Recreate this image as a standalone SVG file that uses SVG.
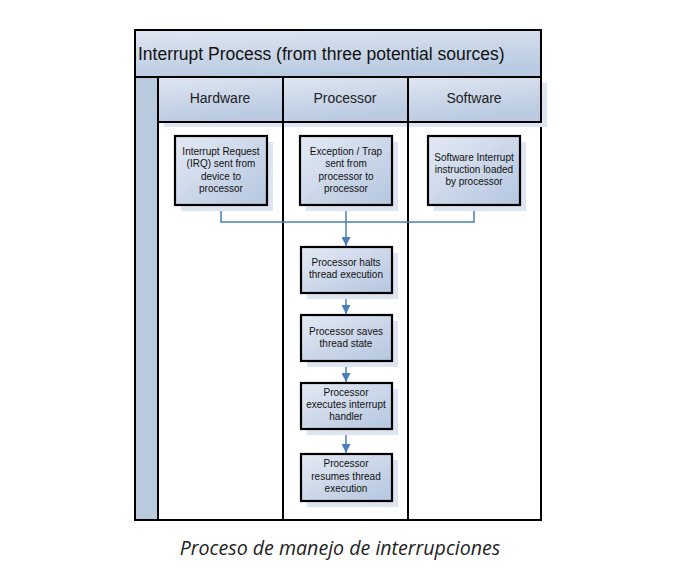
<svg xmlns="http://www.w3.org/2000/svg" width="700" height="581" viewBox="0 0 700 581">
<defs>
<linearGradient id="g" x1="0" y1="0" x2="1" y2="1">
<stop offset="0" stop-color="#e4eaf4"/>
<stop offset="1" stop-color="#b4c6df"/>
</linearGradient>
<linearGradient id="gh" x1="0" y1="0" x2="0.3" y2="1">
<stop offset="0" stop-color="#dfe6f1"/>
<stop offset="1" stop-color="#b9cae1"/>
</linearGradient>
<marker id="arr" viewBox="0 0 10 10" refX="10" refY="5" markerWidth="9" markerHeight="9" markerUnits="userSpaceOnUse" orient="auto">
<path d="M0,0 L10,5 L0,10 z" fill="#4a7ebb"/>
</marker>
</defs>
<style>
.shadow{fill:#dce5f1}
.box{fill:url(#g);stroke:#000;stroke-width:2.2}
.hdr{fill:url(#gh);stroke:#000;stroke-width:2}
.bt{font-family:"Liberation Sans",Arial,sans-serif;font-size:10px;fill:#111;text-anchor:middle}
.ht{font-family:"Liberation Sans",Arial,sans-serif;font-size:14px;fill:#222;text-anchor:middle}
.line{stroke:#000;stroke-width:2;fill:none}
.conn{stroke:#4a7ebb;stroke-width:1.5;fill:none}
</style>
<rect width="700" height="581" fill="#fff"/>
<g id="pool">
<rect x="135" y="30" width="406" height="490" fill="#fff" stroke="#000" stroke-width="2"/>
<rect x="135" y="30" width="406" height="47" fill="url(#gh)" stroke="#000" stroke-width="2"/>
<text x="138" y="60" font-family="'Liberation Sans',Arial,sans-serif" font-size="17.5" fill="#111">Interrupt Process (from three potential sources)</text>
<rect x="135" y="77" width="23" height="443" fill="#b9cadf" stroke="#000" stroke-width="2"/>
</g>
<g id="lane-hardware">
<rect x="164" y="83" width="125" height="44" class="shadow"/>
<rect x="158" y="77" width="125" height="45" class="hdr"/>
<text x="220" y="103" class="ht">Hardware</text>
<line x1="283" y1="77" x2="283" y2="520" class="line"/>
</g>
<g id="lane-processor">
<rect x="289" y="83" width="125" height="44" class="shadow"/>
<rect x="283" y="77" width="125" height="45" class="hdr"/>
<text x="345" y="103" class="ht">Processor</text>
<line x1="408" y1="77" x2="408" y2="520" class="line"/>
</g>
<g id="lane-software">
<rect x="414" y="83" width="133" height="44" class="shadow"/>
<rect x="408" y="77" width="133" height="45" class="hdr"/>
<text x="474" y="103" class="ht">Software</text>
</g>
<g id="connectors">
<polyline points="221,205 221,222 474,222 474,205" class="conn"/>
<line x1="346" y1="205" x2="346" y2="246" class="conn" marker-end="url(#arr)"/>
<line x1="346" y1="293" x2="346" y2="314" class="conn" marker-end="url(#arr)"/>
<line x1="346" y1="361" x2="346" y2="382" class="conn" marker-end="url(#arr)"/>
<line x1="346" y1="429" x2="346" y2="453" class="conn" marker-end="url(#arr)"/>
</g>
<g id="irq">
<rect x="181" y="142" width="92" height="69" class="shadow"/>
<rect x="175" y="136" width="92" height="69" class="box"/>
<text class="bt"><tspan x="221" y="155">Interrupt Request</tspan><tspan x="221" y="167">(IRQ) sent from</tspan><tspan x="221" y="180">device to</tspan><tspan x="221" y="192">processor</tspan></text>
</g>
<g id="exception">
<rect x="306" y="142" width="92" height="69" class="shadow"/>
<rect x="300" y="136" width="92" height="69" class="box"/>
<text class="bt"><tspan x="346" y="155">Exception / Trap</tspan><tspan x="346" y="167">sent from</tspan><tspan x="346" y="180">processor to</tspan><tspan x="346" y="192">processor</tspan></text>
</g>
<g id="swint">
<rect x="434" y="142" width="92" height="69" class="shadow"/>
<rect x="428" y="136" width="92" height="69" class="box"/>
<text class="bt"><tspan x="474" y="161">Software Interrupt</tspan><tspan x="474" y="173">instruction loaded</tspan><tspan x="474" y="185">by  processor</tspan></text>
</g>
<g id="halts">
<rect x="307" y="253" width="91" height="46" class="shadow"/>
<rect x="301" y="247" width="91" height="46" class="box"/>
<text class="bt"><tspan x="346" y="266">Processor halts</tspan><tspan x="346" y="278">thread execution</tspan></text>
</g>
<g id="saves">
<rect x="307" y="321" width="91" height="46" class="shadow"/>
<rect x="301" y="315" width="91" height="46" class="box"/>
<text class="bt"><tspan x="346" y="335">Processor saves</tspan><tspan x="346" y="347">thread state</tspan></text>
</g>
<g id="executes">
<rect x="307" y="389" width="91" height="46" class="shadow"/>
<rect x="301" y="383" width="91" height="46" class="box"/>
<text class="bt"><tspan x="346" y="396">Processor</tspan><tspan x="346" y="408">executes interrupt</tspan><tspan x="346" y="420">handler</tspan></text>
</g>
<g id="resumes">
<rect x="307" y="460" width="91" height="47" class="shadow"/>
<rect x="301" y="454" width="91" height="47" class="box"/>
<text class="bt"><tspan x="346" y="467">Processor</tspan><tspan x="346" y="480">resumes thread</tspan><tspan x="346" y="492">execution</tspan></text>
</g>
<text x="340" y="555" font-family="'Open Sans','Noto Sans',sans-serif" font-style="italic" font-size="19.6" fill="#222" text-anchor="middle">Proceso de manejo de interrupciones</text>
</svg>
